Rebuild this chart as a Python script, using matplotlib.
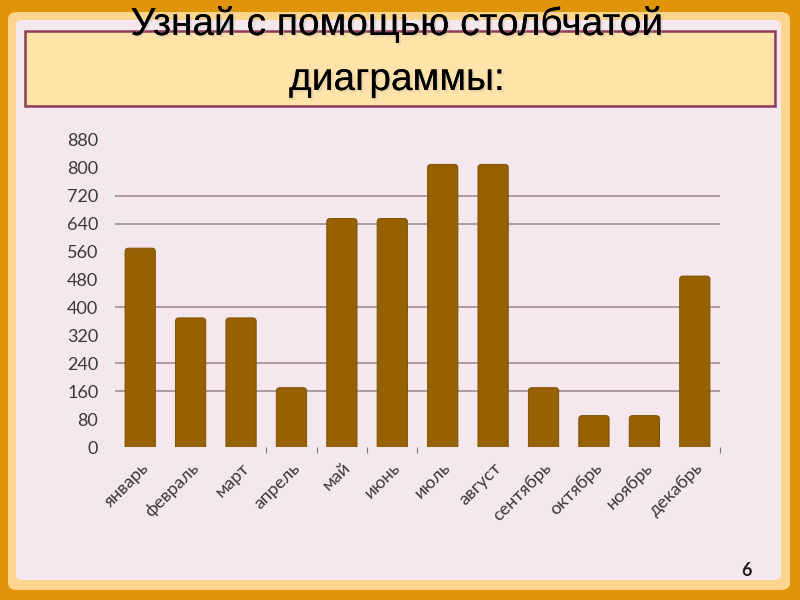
import matplotlib
matplotlib.use("Agg")
import matplotlib.pyplot as plt
from matplotlib.patches import FancyBboxPatch, Rectangle
import matplotlib.patheffects as pe

months = ["январь", "февраль", "март", "апрель", "май", "июнь",
          "июль", "август", "сентябрь", "октябрь", "ноябрь", "декабрь"]
values = [570, 370, 370, 170, 655, 655, 810, 810, 170, 90, 90, 490]
yticks = [0, 80, 160, 240, 320, 400, 480, 560, 640, 720, 800, 880]
grid_levels = [160, 240, 400, 640, 720]
title_lines = ["Узнай с помощью столбчатой", "диаграммы:"]
page_no = "6"

W, H = 800, 600


def box(x0, y0, x1, y1):
    # pixel coords (top-left origin) -> figure fractions
    return x0 / W, 1 - y1 / H, (x1 - x0) / W, (y1 - y0) / H


fig = plt.figure(figsize=(8, 6), dpi=100, facecolor="#E0940A")

x, y, w, h = box(8, 12, 790, 590)
fig.patches.append(FancyBboxPatch((x, y), w, h, boxstyle="round,pad=0,rounding_size=0.012",
                                  transform=fig.transFigure, facecolor="#FDD58C",
                                  edgecolor="none", zorder=0))
x, y, w, h = box(16, 20, 781, 580)
fig.patches.append(FancyBboxPatch((x, y), w, h, boxstyle="round,pad=0,rounding_size=0.008",
                                  transform=fig.transFigure, facecolor="#F5E7EE",
                                  edgecolor="none", zorder=0))
x, y, w, h = box(25, 31, 775, 106)
fig.patches.append(Rectangle((x, y), w, h, transform=fig.transFigure,
                             facecolor="#FFE3A8", edgecolor="#8E3A5A", linewidth=1.8, zorder=1))

shadow = [pe.withSimplePatchShadow(offset=(1.5, -1.5), shadow_rgbFace="#aaaaaa", alpha=0.25),
          pe.Normal()]
for line, base in zip(title_lines, [35, 90]):
    fig.text(397 / W, 1 - base / H, line, ha="center", va="baseline", fontsize=28,
             family="Liberation Sans", color="black", path_effects=shadow, zorder=2)

fig.text(746 / W, 1 - 571 / H, page_no, ha="center", va="center", fontsize=13,
         family="Lato", fontweight="bold", color="#222222", zorder=2)

x, y, w, h = box(115, 140, 720, 447)
ax = fig.add_axes([x, y, w, h])
ax.set_zorder(3)
ax.set_facecolor("none")

pos = list(range(len(months)))
bars = ax.bar(pos, values, width=0.6, color="#966100")
# swap the plain rectangles for slightly rounded ones (bottom corners clipped by the axes)
for rect in list(bars):
    bx, bw, bh = rect.get_x(), rect.get_width(), rect.get_height()
    ax.add_patch(FancyBboxPatch((bx, -30), bw, bh + 30,
                                boxstyle="round,pad=0,rounding_size=0.07", mutation_aspect=140,
                                facecolor="#966100", edgecolor="#7d5200", linewidth=0.7, zorder=3))
    rect.remove()
for g in grid_levels:
    ax.axhline(g, color="#9E8E96", linewidth=1.2, zorder=1)

ax.set_xlim(-0.5, len(months) - 0.5)
ax.set_ylim(0, 880)
ax.set_yticks(yticks)
ax.set_yticklabels([str(t) for t in yticks], family="Lato", fontsize=13, color="#3a3a3a")
ax.set_xticks(pos)
ax.set_xticklabels(months, rotation=45, ha="right", va="top", rotation_mode="anchor",
                   family="Lato", fontsize=13, color="#3a3a3a")
ax.tick_params(axis="y", length=0, pad=12)
ax.tick_params(axis="x", length=0, pad=9)
ax.set_xticks([2.5, 3.5, 4.5, 5.5, 11.5], minor=True)
ax.tick_params(axis="x", which="minor", length=4, color="#777777", width=0.8)
for s in ax.spines.values():
    s.set_visible(False)

fig.savefig("out.png", dpi=100, facecolor=fig.get_facecolor())
